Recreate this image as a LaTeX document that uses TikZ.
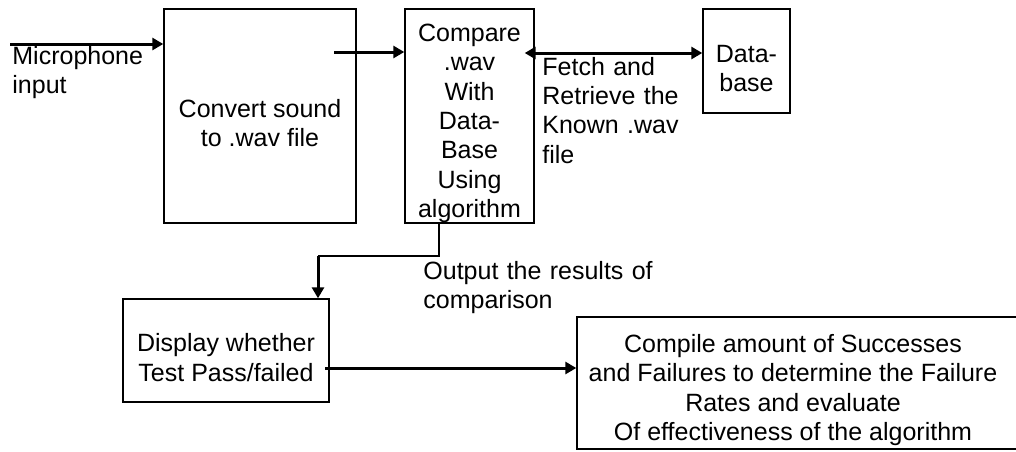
\documentclass[tikz,border=0pt]{standalone}
\usepackage{fontspec}
\setmainfont{Liberation Sans}
\usetikzlibrary{arrows.meta}

% extra room above the first line of text in a block
\newcommand{\firstgap}{\rule{0pt}{16pt}}

\begin{document}
\begin{tikzpicture}[x=0.5pt,y=-0.5pt,
  every node/.style={font=\fontsize{12.5}{14.7}\selectfont, text=black},
  block/.style={draw, line width=0.7pt, inner sep=0pt, align=center},
  label/.style={inner sep=0pt, align=left, text width=160pt},
  thinline/.style={line width=0.6pt},
  flow/.style={line width=1.5pt, -{Triangle[length=5.5pt,width=6pt]}},
  twoway/.style={line width=1.5pt, {Triangle[length=5.5pt,width=6pt]}-{Triangle[length=5.5pt,width=6pt]}}
]
\useasboundingbox (0,0) rectangle (1016,451);

% processing blocks
\node[block, minimum width=96pt, minimum height=107pt] (conv) at (260,116)
  {\firstgap Convert sound\\to .wav file};
\node[block, minimum width=64.5pt, minimum height=107pt] (comp) at (469.5,116)
  {\firstgap Compare\\.wav\\With\\Data-\\Base\\Using\\algorithm};
\node[block, minimum width=43.5pt, minimum height=52pt] (db) at (746.5,61)
  {\firstgap Data-\\base};
\node[block, minimum width=103pt, minimum height=51.5pt] (disp) at (226,350.5)
  {\firstgap Display whether\\Test Pass/failed};
% this block runs on past the right edge of the page; its text sits in the visible part
\node[draw, line width=0.7pt, inner sep=0pt, minimum height=66pt] (rate) at (813,383)
  {\parbox{216pt}{\centering\firstgap Compile amount of Successes\\and Failures to determine the Failure\\Rates and evaluate\\Of effectiveness of the algorithm}\rule{20pt}{0pt}};

% free labels
\node[label, anchor=base west] (mic) at (12,64) {Microphone\\input};
\node[label, anchor=base west] (fetch) at (542,75) {Fetch and\\Retrieve the\\Known .wav\\file};
\node[label, anchor=base west] (outl) at (423,279) {Output the results of\\comparison};

% connector anchor points
\coordinate (micin) at (10,44);
\coordinate (wavout) at (334,52);
\coordinate (dbline) at (0,53);
\coordinate (resA) at (439,256);
\coordinate (resB) at (318,256);
\coordinate (dispout) at (325,368);

% connectors
\draw[flow] (micin) -- (micin -| conv.west);
\draw[flow] (wavout) -- (wavout -| comp.west);
\draw[twoway, shorten <=-5pt] (comp.east |- dbline) -- (db.west |- dbline);
\draw[thinline] (resA |- comp.south) -- (resA) -- (resB);
\draw[flow] (resB) -- (resB |- disp.north);
\draw[flow] (dispout) -- (dispout -| rate.west);
\end{tikzpicture}
\end{document}
